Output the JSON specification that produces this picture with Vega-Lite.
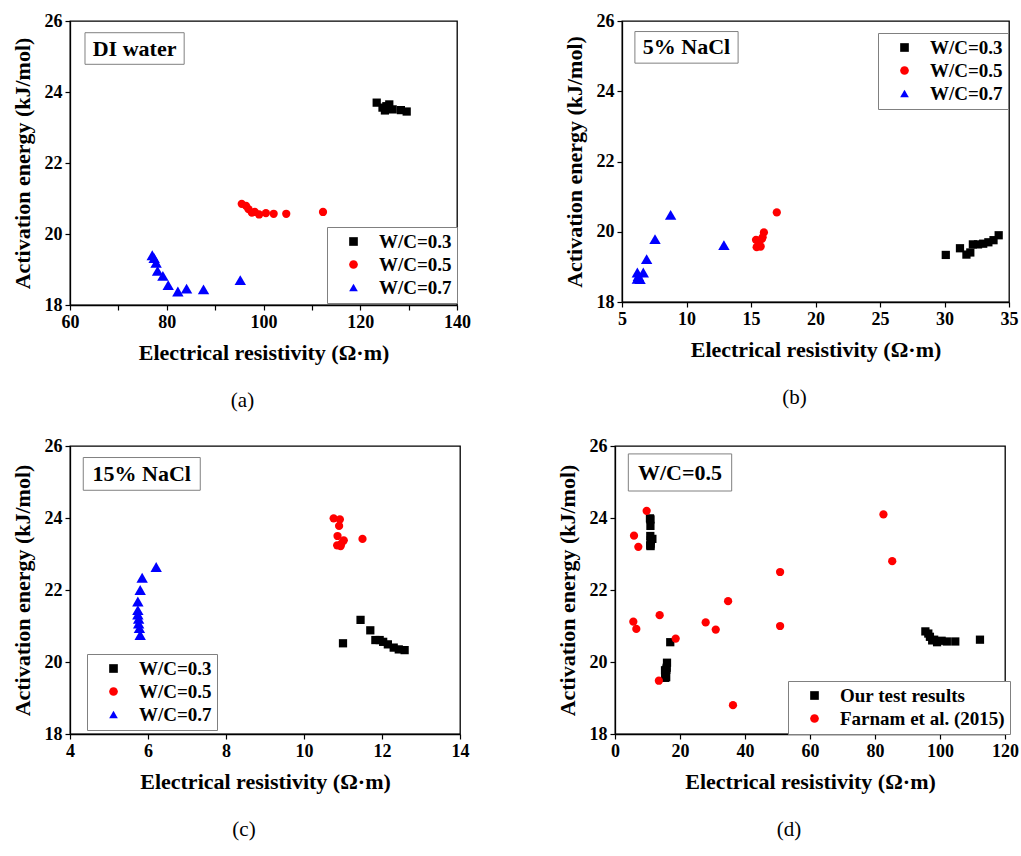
{
  "$schema": "https://vega.github.io/schema/vega-lite/v6.json",
  "background": "white",
  "padding": {"left": 10, "top": 11, "right": 0, "bottom": 0},
  "datasets": {
    "a": [
      {"x": 123.4, "y": 23.70, "series": "W/C=0.3"},
      {"x": 124.6, "y": 23.56, "series": "W/C=0.3"},
      {"x": 125.1, "y": 23.48, "series": "W/C=0.3"},
      {"x": 125.4, "y": 23.60, "series": "W/C=0.3"},
      {"x": 126.0, "y": 23.65, "series": "W/C=0.3"},
      {"x": 126.7, "y": 23.51, "series": "W/C=0.3"},
      {"x": 128.4, "y": 23.49, "series": "W/C=0.3"},
      {"x": 129.6, "y": 23.45, "series": "W/C=0.3"},
      {"x": 95.5, "y": 20.85, "series": "W/C=0.5"},
      {"x": 96.4, "y": 20.79, "series": "W/C=0.5"},
      {"x": 96.9, "y": 20.70, "series": "W/C=0.5"},
      {"x": 97.6, "y": 20.60, "series": "W/C=0.5"},
      {"x": 98.2, "y": 20.62, "series": "W/C=0.5"},
      {"x": 99.1, "y": 20.55, "series": "W/C=0.5"},
      {"x": 100.5, "y": 20.59, "series": "W/C=0.5"},
      {"x": 102.1, "y": 20.57, "series": "W/C=0.5"},
      {"x": 104.7, "y": 20.57, "series": "W/C=0.5"},
      {"x": 112.3, "y": 20.62, "series": "W/C=0.5"},
      {"x": 77.0, "y": 19.40, "series": "W/C=0.7"},
      {"x": 77.4, "y": 19.32, "series": "W/C=0.7"},
      {"x": 77.8, "y": 19.19, "series": "W/C=0.7"},
      {"x": 78.1, "y": 18.96, "series": "W/C=0.7"},
      {"x": 79.2, "y": 18.82, "series": "W/C=0.7"},
      {"x": 80.3, "y": 18.56, "series": "W/C=0.7"},
      {"x": 82.3, "y": 18.38, "series": "W/C=0.7"},
      {"x": 84.1, "y": 18.46, "series": "W/C=0.7"},
      {"x": 87.6, "y": 18.44, "series": "W/C=0.7"},
      {"x": 95.2, "y": 18.70, "series": "W/C=0.7"}
    ],
    "b": [
      {"x": 30.1, "y": 19.34, "series": "W/C=0.3"},
      {"x": 31.2, "y": 19.53, "series": "W/C=0.3"},
      {"x": 31.7, "y": 19.35, "series": "W/C=0.3"},
      {"x": 32.0, "y": 19.41, "series": "W/C=0.3"},
      {"x": 32.2, "y": 19.64, "series": "W/C=0.3"},
      {"x": 32.6, "y": 19.64, "series": "W/C=0.3"},
      {"x": 33.0, "y": 19.66, "series": "W/C=0.3"},
      {"x": 33.4, "y": 19.70, "series": "W/C=0.3"},
      {"x": 33.8, "y": 19.76, "series": "W/C=0.3"},
      {"x": 34.2, "y": 19.90, "series": "W/C=0.3"},
      {"x": 15.39, "y": 19.77, "series": "W/C=0.5"},
      {"x": 15.44, "y": 19.56, "series": "W/C=0.5"},
      {"x": 15.57, "y": 19.60, "series": "W/C=0.5"},
      {"x": 15.75, "y": 19.58, "series": "W/C=0.5"},
      {"x": 15.83, "y": 19.79, "series": "W/C=0.5"},
      {"x": 15.9, "y": 19.84, "series": "W/C=0.5"},
      {"x": 16.0, "y": 19.98, "series": "W/C=0.5"},
      {"x": 17.0, "y": 20.55, "series": "W/C=0.5"},
      {"x": 6.19, "y": 18.84, "series": "W/C=0.7"},
      {"x": 6.27, "y": 18.74, "series": "W/C=0.7"},
      {"x": 6.40, "y": 18.65, "series": "W/C=0.7"},
      {"x": 6.19, "y": 18.66, "series": "W/C=0.7"},
      {"x": 6.65, "y": 18.84, "series": "W/C=0.7"},
      {"x": 6.91, "y": 19.22, "series": "W/C=0.7"},
      {"x": 7.56, "y": 19.79, "series": "W/C=0.7"},
      {"x": 8.77, "y": 20.48, "series": "W/C=0.7"},
      {"x": 12.9, "y": 19.62, "series": "W/C=0.7"}
    ],
    "c": [
      {"x": 11.0, "y": 20.52, "series": "W/C=0.3"},
      {"x": 11.45, "y": 21.17, "series": "W/C=0.3"},
      {"x": 11.70, "y": 20.88, "series": "W/C=0.3"},
      {"x": 11.83, "y": 20.61, "series": "W/C=0.3"},
      {"x": 11.94, "y": 20.61, "series": "W/C=0.3"},
      {"x": 12.03, "y": 20.56, "series": "W/C=0.3"},
      {"x": 12.15, "y": 20.49, "series": "W/C=0.3"},
      {"x": 12.30, "y": 20.40, "series": "W/C=0.3"},
      {"x": 12.43, "y": 20.35, "series": "W/C=0.3"},
      {"x": 12.58, "y": 20.33, "series": "W/C=0.3"},
      {"x": 10.76, "y": 23.99, "series": "W/C=0.5"},
      {"x": 10.92, "y": 23.96, "series": "W/C=0.5"},
      {"x": 10.90, "y": 23.78, "series": "W/C=0.5"},
      {"x": 10.86, "y": 23.50, "series": "W/C=0.5"},
      {"x": 11.02, "y": 23.38, "series": "W/C=0.5"},
      {"x": 10.96, "y": 23.29, "series": "W/C=0.5"},
      {"x": 10.85, "y": 23.24, "series": "W/C=0.5"},
      {"x": 10.94, "y": 23.22, "series": "W/C=0.5"},
      {"x": 11.50, "y": 23.42, "series": "W/C=0.5"},
      {"x": 6.21, "y": 22.64, "series": "W/C=0.7"},
      {"x": 5.85, "y": 22.34, "series": "W/C=0.7"},
      {"x": 5.80, "y": 22.00, "series": "W/C=0.7"},
      {"x": 5.74, "y": 21.68, "series": "W/C=0.7"},
      {"x": 5.74, "y": 21.44, "series": "W/C=0.7"},
      {"x": 5.74, "y": 21.32, "series": "W/C=0.7"},
      {"x": 5.76, "y": 21.20, "series": "W/C=0.7"},
      {"x": 5.76, "y": 21.07, "series": "W/C=0.7"},
      {"x": 5.78, "y": 20.94, "series": "W/C=0.7"},
      {"x": 5.80, "y": 20.75, "series": "W/C=0.7"}
    ],
    "d": [
      {"x": 95.5, "y": 20.85, "series": "Our test results"},
      {"x": 96.4, "y": 20.79, "series": "Our test results"},
      {"x": 96.9, "y": 20.70, "series": "Our test results"},
      {"x": 97.6, "y": 20.60, "series": "Our test results"},
      {"x": 98.2, "y": 20.62, "series": "Our test results"},
      {"x": 99.1, "y": 20.55, "series": "Our test results"},
      {"x": 100.5, "y": 20.59, "series": "Our test results"},
      {"x": 102.1, "y": 20.57, "series": "Our test results"},
      {"x": 104.7, "y": 20.57, "series": "Our test results"},
      {"x": 112.3, "y": 20.62, "series": "Our test results"},
      {"x": 15.39, "y": 19.77, "series": "Our test results"},
      {"x": 15.44, "y": 19.56, "series": "Our test results"},
      {"x": 15.57, "y": 19.60, "series": "Our test results"},
      {"x": 15.75, "y": 19.58, "series": "Our test results"},
      {"x": 15.83, "y": 19.79, "series": "Our test results"},
      {"x": 15.9, "y": 19.84, "series": "Our test results"},
      {"x": 16.0, "y": 19.98, "series": "Our test results"},
      {"x": 17.0, "y": 20.55, "series": "Our test results"},
      {"x": 10.76, "y": 23.99, "series": "Our test results"},
      {"x": 10.92, "y": 23.96, "series": "Our test results"},
      {"x": 10.90, "y": 23.78, "series": "Our test results"},
      {"x": 10.86, "y": 23.50, "series": "Our test results"},
      {"x": 11.02, "y": 23.38, "series": "Our test results"},
      {"x": 10.96, "y": 23.29, "series": "Our test results"},
      {"x": 10.85, "y": 23.24, "series": "Our test results"},
      {"x": 10.94, "y": 23.22, "series": "Our test results"},
      {"x": 11.50, "y": 23.42, "series": "Our test results"},
      {"x": 5.85, "y": 23.51, "series": "Farnam et al. (2015)"},
      {"x": 7.18, "y": 23.20, "series": "Farnam et al. (2015)"},
      {"x": 9.74, "y": 24.20, "series": "Farnam et al. (2015)"},
      {"x": 5.64, "y": 21.12, "series": "Farnam et al. (2015)"},
      {"x": 6.56, "y": 20.92, "series": "Farnam et al. (2015)"},
      {"x": 13.74, "y": 21.30, "series": "Farnam et al. (2015)"},
      {"x": 13.5, "y": 19.48, "series": "Farnam et al. (2015)"},
      {"x": 18.67, "y": 20.65, "series": "Farnam et al. (2015)"},
      {"x": 27.9, "y": 21.10, "series": "Farnam et al. (2015)"},
      {"x": 31.0, "y": 20.90, "series": "Farnam et al. (2015)"},
      {"x": 34.8, "y": 21.69, "series": "Farnam et al. (2015)"},
      {"x": 36.3, "y": 18.80, "series": "Farnam et al. (2015)"},
      {"x": 50.8, "y": 22.50, "series": "Farnam et al. (2015)"},
      {"x": 50.8, "y": 21.00, "series": "Farnam et al. (2015)"},
      {"x": 82.6, "y": 24.10, "series": "Farnam et al. (2015)"},
      {"x": 85.3, "y": 22.80, "series": "Farnam et al. (2015)"}
    ],
    "labA": [{"label": "DI water"}],
    "labB": [{"label": "5% NaCl"}],
    "labC": [{"label": "15% NaCl"}],
    "labD": [{"label": "W/C=0.5"}]
  },
  "vconcat": [
    {
      "hconcat": [
        {
          "width": 387, "height": 284,
          "title": {"text": "(a)", "orient": "bottom", "anchor": "middle", "frame": "group", "dx": -21, "offset": 27, "fontSize": 21, "fontWeight": "normal", "font": "Liberation Serif", "color": "black"},
          "layer": [
            {
              "data": {"name": "labA"},
              "mark": {"type": "rect", "fill": "white", "stroke": "#808080", "strokeWidth": 1},
              "encoding": {
                "x": {"datum": 63.1, "type": "quantitative", "scale": {"domain": [60, 140], "nice": false, "zero": false}},
                "x2": {"datum": 83.6},
                "y": {"datum": 25.67, "type": "quantitative", "scale": {"domain": [18, 26], "nice": false, "zero": false}},
                "y2": {"datum": 24.78}
              }
            },
            {
              "data": {"name": "labA"},
              "mark": {"type": "text", "font": "Liberation Serif", "fontWeight": "bold", "fontSize": 22, "color": "black", "align": "center", "baseline": "middle"},
              "encoding": {
                "x": {"datum": 73.35, "type": "quantitative"},
                "y": {"datum": 25.22, "type": "quantitative"},
                "text": {"field": "label"}
              }
            },
            {
              "data": {"name": "a"},
              "mark": {"type": "point", "filled": true, "opacity": 1},
              "encoding": {
                "x": {"field": "x", "type": "quantitative", "title": "Electrical resistivity (Ω·m)",
                  "axis": {"values": [60, 70, 80, 90, 100, 110, 120, 130, 140], "labelExpr": "datum.value % 20 == 0 ? datum.label : ''"}},
                "y": {"field": "y", "type": "quantitative", "title": "Activation energy (kJ/mol)",
                  "axis": {"values": [18, 19, 20, 21, 22, 23, 24, 25, 26], "labelExpr": "datum.value % 2 == 0 ? datum.label : ''"}},
                "color": {"field": "series", "type": "nominal", "scale": {"domain": ["W/C=0.3", "W/C=0.5", "W/C=0.7"], "range": ["black", "#ff0000", "#0000ff"]},
                  "legend": {"orient": "none", "legendX": 257, "legendY": 206}},
                "shape": {"field": "series", "type": "nominal", "scale": {"domain": ["W/C=0.3", "W/C=0.5", "W/C=0.7"], "range": ["square", "circle", "triangle-up"]},
                  "legend": {"orient": "none", "legendX": 257, "legendY": 206}},
                "size": {"condition": {"test": "datum.series === 'W/C=0.7'", "value": 130}, "value": 68}
              }
            }
          ]
        },
        {
          "width": 387, "height": 281,
          "title": {"text": "(b)", "orient": "bottom", "anchor": "middle", "frame": "group", "dx": -21, "offset": 27, "fontSize": 21, "fontWeight": "normal", "font": "Liberation Serif", "color": "black"},
          "layer": [
            {
              "data": {"name": "labB"},
              "mark": {"type": "rect", "fill": "white", "stroke": "#808080", "strokeWidth": 1},
              "encoding": {
                "x": {"datum": 6.0, "type": "quantitative", "scale": {"domain": [5, 35], "nice": false, "zero": false}},
                "x2": {"datum": 14.0},
                "y": {"datum": 25.7, "type": "quantitative", "scale": {"domain": [18, 26], "nice": false, "zero": false}},
                "y2": {"datum": 24.8}
              }
            },
            {
              "data": {"name": "labB"},
              "mark": {"type": "text", "font": "Liberation Serif", "fontWeight": "bold", "fontSize": 22, "color": "black", "align": "center", "baseline": "middle"},
              "encoding": {
                "x": {"datum": 10.0, "type": "quantitative"},
                "y": {"datum": 25.25, "type": "quantitative"},
                "text": {"field": "label"}
              }
            },
            {
              "data": {"name": "b"},
              "mark": {"type": "point", "filled": true, "opacity": 1},
              "encoding": {
                "x": {"field": "x", "type": "quantitative", "title": "Electrical resistivity (Ω·m)",
                  "axis": {"values": [5, 7.5, 10, 12.5, 15, 17.5, 20, 22.5, 25, 27.5, 30, 32.5, 35], "labelExpr": "datum.value % 5 == 0 ? datum.label : ''"}},
                "y": {"field": "y", "type": "quantitative", "title": "Activation energy (kJ/mol)",
                  "axis": {"values": [18, 19, 20, 21, 22, 23, 24, 25, 26], "labelExpr": "datum.value % 2 == 0 ? datum.label : ''"}},
                "color": {"field": "series", "type": "nominal", "scale": {"domain": ["W/C=0.3", "W/C=0.5", "W/C=0.7"], "range": ["black", "#ff0000", "#0000ff"]},
                  "legend": {"orient": "none", "legendX": 256, "legendY": 12}},
                "shape": {"field": "series", "type": "nominal", "scale": {"domain": ["W/C=0.3", "W/C=0.5", "W/C=0.7"], "range": ["square", "circle", "triangle-up"]},
                  "legend": {"orient": "none", "legendX": 256, "legendY": 12}},
                "size": {"condition": {"test": "datum.series === 'W/C=0.7'", "value": 130}, "value": 68}
              }
            }
          ]
        }
      ],
      "spacing": 90,
      "resolve": {"scale": {"color": "independent", "shape": "independent", "x": "independent", "y": "independent"}, "legend": {"color": "independent", "shape": "independent"}}
    },
    {
      "hconcat": [
        {
          "width": 390, "height": 288,
          "title": {"text": "(c)", "orient": "bottom", "anchor": "middle", "frame": "group", "dx": -21, "offset": 27, "fontSize": 21, "fontWeight": "normal", "font": "Liberation Serif", "color": "black"},
          "layer": [
            {
              "data": {"name": "labC"},
              "mark": {"type": "rect", "fill": "white", "stroke": "#808080", "strokeWidth": 1},
              "encoding": {
                "x": {"datum": 4.34, "type": "quantitative", "scale": {"domain": [4, 14], "nice": false, "zero": false}},
                "x2": {"datum": 7.34},
                "y": {"datum": 25.68, "type": "quantitative", "scale": {"domain": [18, 26], "nice": false, "zero": false}},
                "y2": {"datum": 24.77}
              }
            },
            {
              "data": {"name": "labC"},
              "mark": {"type": "text", "font": "Liberation Serif", "fontWeight": "bold", "fontSize": 22, "color": "black", "align": "center", "baseline": "middle"},
              "encoding": {
                "x": {"datum": 5.84, "type": "quantitative"},
                "y": {"datum": 25.22, "type": "quantitative"},
                "text": {"field": "label"}
              }
            },
            {
              "data": {"name": "c"},
              "mark": {"type": "point", "filled": true, "opacity": 1},
              "encoding": {
                "x": {"field": "x", "type": "quantitative", "title": "Electrical resistivity (Ω·m)",
                  "axis": {"values": [4, 5, 6, 7, 8, 9, 10, 11, 12, 13, 14], "labelExpr": "datum.value % 2 == 0 ? datum.label : ''"}},
                "y": {"field": "y", "type": "quantitative", "title": "Activation energy (kJ/mol)",
                  "axis": {"values": [18, 19, 20, 21, 22, 23, 24, 25, 26], "labelExpr": "datum.value % 2 == 0 ? datum.label : ''"}},
                "color": {"field": "series", "type": "nominal", "scale": {"domain": ["W/C=0.3", "W/C=0.5", "W/C=0.7"], "range": ["black", "#ff0000", "#0000ff"]},
                  "legend": {"orient": "none", "legendX": 17, "legendY": 208}},
                "shape": {"field": "series", "type": "nominal", "scale": {"domain": ["W/C=0.3", "W/C=0.5", "W/C=0.7"], "range": ["square", "circle", "triangle-up"]},
                  "legend": {"orient": "none", "legendX": 17, "legendY": 208}},
                "size": {"condition": {"test": "datum.series === 'W/C=0.7'", "value": 130}, "value": 68}
              }
            }
          ]
        },
        {
          "width": 390, "height": 288,
          "title": {"text": "(d)", "orient": "bottom", "anchor": "middle", "frame": "group", "dx": -21, "offset": 27, "fontSize": 21, "fontWeight": "normal", "font": "Liberation Serif", "color": "black"},
          "layer": [
            {
              "data": {"name": "labD"},
              "mark": {"type": "rect", "fill": "white", "stroke": "#808080", "strokeWidth": 1},
              "encoding": {
                "x": {"datum": 4.1, "type": "quantitative", "scale": {"domain": [0, 120], "nice": false, "zero": false}},
                "x2": {"datum": 35.9},
                "y": {"datum": 25.78, "type": "quantitative", "scale": {"domain": [18, 26], "nice": false, "zero": false}},
                "y2": {"datum": 24.75}
              }
            },
            {
              "data": {"name": "labD"},
              "mark": {"type": "text", "font": "Liberation Serif", "fontWeight": "bold", "fontSize": 22, "color": "black", "align": "center", "baseline": "middle"},
              "encoding": {
                "x": {"datum": 20.0, "type": "quantitative"},
                "y": {"datum": 25.24, "type": "quantitative"},
                "text": {"field": "label"}
              }
            },
            {
              "data": {"name": "d"},
              "mark": {"type": "point", "filled": true, "opacity": 1, "size": 68},
              "encoding": {
                "x": {"field": "x", "type": "quantitative", "title": "Electrical resistivity (Ω·m)",
                  "axis": {"values": [0, 10, 20, 30, 40, 50, 60, 70, 80, 90, 100, 110, 120], "labelExpr": "datum.value % 20 == 0 ? datum.label : ''"}},
                "y": {"field": "y", "type": "quantitative", "title": "Activation energy (kJ/mol)",
                  "axis": {"values": [18, 19, 20, 21, 22, 23, 24, 25, 26], "labelExpr": "datum.value % 2 == 0 ? datum.label : ''"}},
                "color": {"field": "series", "type": "nominal", "scale": {"domain": ["Our test results", "Farnam et al. (2015)"], "range": ["black", "#ff0000"]},
                  "legend": {"orient": "none", "legendX": 173, "legendY": 235}},
                "shape": {"field": "series", "type": "nominal", "scale": {"domain": ["Our test results", "Farnam et al. (2015)"], "range": ["square", "circle"]},
                  "legend": {"orient": "none", "legendX": 173, "legendY": 235}}
              }
            }
          ]
        }
      ],
      "spacing": 85,
      "resolve": {"scale": {"color": "independent", "shape": "independent", "x": "independent", "y": "independent"}, "legend": {"color": "independent", "shape": "independent"}}
    }
  ],
  "spacing": 24,
  "resolve": {"scale": {"color": "independent", "shape": "independent", "x": "independent", "y": "independent"}, "legend": {"color": "independent", "shape": "independent"}},
  "config": {
    "font": "Liberation Serif",
    "view": {"stroke": "black", "strokeWidth": 1.3},
    "axis": {
      "grid": false,
      "labelFont": "Liberation Serif", "labelFontWeight": "bold", "labelFontSize": 18, "labelColor": "black",
      "titleFont": "Liberation Serif", "titleFontWeight": "bold", "titleFontSize": 22, "titleColor": "black",
      "domainColor": "black", "domainWidth": 1.3, "tickColor": "black", "tickWidth": 1.2, "tickSize": 5, "labelPadding": 3,
      "labelOverlap": false, "labelFlush": false
    },
    "axisX": {"titlePadding": 11},
    "axisY": {"titlePadding": 10},
    "legend": {
      "title": null,
      "labelFont": "Liberation Serif", "labelFontWeight": "bold", "labelFontSize": 19, "labelColor": "black", "labelLimit": 400,
      "strokeColor": "#808080", "fillColor": "white", "padding": 5, "symbolOffset": 12, "labelOffset": 16,
      "rowPadding": 3, "symbolStrokeWidth": 0, "symbolSize": 75
    }
  }
}
